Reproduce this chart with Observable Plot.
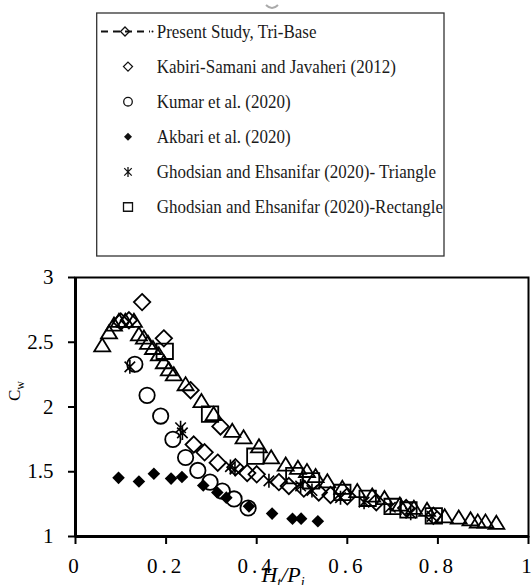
<!DOCTYPE html>
<html><head><meta charset="utf-8">
<script src="https://cdn.jsdelivr.net/npm/d3@7"></script>
<script src="https://cdn.jsdelivr.net/npm/@observablehq/plot@0.6"></script>
<style>
body{margin:0;background:#fff;}
#wrap{position:relative;width:531px;height:585px;overflow:hidden;font-family:"Liberation Serif","Times New Roman",serif;}
#chart{position:absolute;left:0;top:0;}
#legend{position:absolute;left:0;top:0;}
#chart [aria-label^="x-axis"] text{letter-spacing:4px;}
#chart [aria-label^="x-axis"] path,#chart [aria-label^="x-axis"] line,
#chart [aria-label^="y-axis"] path,#chart [aria-label^="y-axis"] line{stroke-width:2px;stroke:#000;}
</style></head>
<body><div id="wrap"><div id="chart"></div><svg id="legend" width="531" height="262"></svg></div>
<script>
// ---- data ----
const seriesNames = [
  "Present Study, Tri-Base",
  "Kabiri-Samani and Javaheri (2012)",
  "Kumar et al. (2020)",
  "Akbari et al. (2020)",
  "Ghodsian and Ehsanifar (2020)- Triangle",
  "Ghodsian and Ehsanifar (2020)-Rectangle"
];
const presentX = [0.059,0.074,0.085,0.096,0.110,0.129,0.140,0.151,0.160,0.171,0.184,0.195,0.206,0.217,0.243,0.278,0.305,0.346,0.371,0.405,0.432,0.464,0.491,0.511,0.530,0.556,0.589,0.622,0.655,0.682,0.716,0.747,0.776,0.815,0.846,0.872,0.888,0.905,0.929];
const presentY = [2.48,2.58,2.64,2.67,2.67,2.67,2.565,2.54,2.50,2.46,2.41,2.35,2.295,2.256,2.18,2.05,1.95,1.82,1.77,1.70,1.615,1.56,1.535,1.51,1.47,1.43,1.38,1.355,1.32,1.30,1.25,1.226,1.21,1.16,1.15,1.137,1.12,1.12,1.11];
const kabiriX = [0.100,0.118,0.147,0.195,0.254,0.261,0.285,0.314,0.320,0.353,0.379,0.400,0.449,0.471,0.504,0.537,0.563,0.600,0.664,0.730,0.790];
const kabiriY = [2.66,2.67,2.81,2.53,2.13,1.71,1.65,1.57,1.85,1.535,1.49,1.48,1.42,1.39,1.37,1.34,1.32,1.31,1.265,1.22,1.16];
const kumarX = [0.131,0.158,0.188,0.215,0.243,0.270,0.297,0.324,0.350,0.381];
const kumarY = [2.33,2.09,1.93,1.75,1.61,1.51,1.42,1.35,1.29,1.22];
const akbariX = [0.095,0.140,0.173,0.211,0.235,0.282,0.313,0.333,0.383,0.434,0.479,0.498,0.535];
const akbariY = [1.453,1.425,1.485,1.447,1.46,1.394,1.34,1.30,1.233,1.177,1.137,1.138,1.118];
const ghodTriX = [0.120,0.232,0.236,0.342,0.352,0.427,0.497,0.522,0.585,0.637,0.695,0.740,0.787];
const ghodTriY = [2.31,1.84,1.80,1.54,1.52,1.43,1.39,1.355,1.30,1.265,1.226,1.18,1.155];
const ghodRectX = [0.197,0.297,0.397,0.483,0.520,0.589,0.645,0.700,0.735,0.791];
const ghodRectY = [2.43,1.945,1.62,1.47,1.43,1.34,1.295,1.232,1.205,1.16];
const xTicks = [0,0.2,0.4,0.6,0.8,1];
const xTickLabels = ["0","0.2","0.4","0.6","0.8","1"];
const yTicks = [1,1.5,2,2.5,3];
const yTickLabels = ["1","1.5","2","2.5","3"];

const toRows = (xs, ys) => xs.map((x, i) => ({x, y: ys[i]}));

// ---- custom symbols ----
const R = s => Math.sqrt(s / Math.PI);
const symTriangle = {draw(c, s){const r=R(s), h=r*0.82; c.moveTo(0,-h); c.lineTo(r,h); c.lineTo(-r,h); c.closePath();}};
const symDiamond = {draw(c, s){const r=R(s); c.moveTo(0,-r); c.lineTo(r,0); c.lineTo(0,r); c.lineTo(-r,0); c.closePath();}};
const symSquare = {draw(c, s){const r=R(s), h=r*0.94; c.moveTo(-r,-h); c.lineTo(r,-h); c.lineTo(r,h); c.lineTo(-r,h); c.closePath();}};
const symCircle = {draw(c, s){const r=R(s); c.moveTo(r,0); c.arc(0,0,r,0,2*Math.PI); c.closePath();}};
const symStar = {draw(c, s){const r=R(s), d=r*0.75; c.moveTo(-d,-d); c.lineTo(d,d); c.moveTo(d,-d); c.lineTo(-d,d); c.moveTo(0,-r); c.lineTo(0,r);}};

const xLab = new Map(xTicks.map((t,i)=>[t,xTickLabels[i]]));
const yLab = new Map(yTicks.map((t,i)=>[t,yTickLabels[i]]));

const chart = Plot.plot({
  width: 531, height: 585,
  marginTop: 277, marginBottom: 49, marginLeft: 75, marginRight: 3,
  style: {fontFamily: '"Liberation Serif", "Times New Roman", serif', fontSize: "21px", color: "#000", background: "transparent"},
  x: {domain: [0,1], ticks: xTicks, tickFormat: d => xLab.get(d), tickSize: 8, tickPadding: 14, label: null},
  y: {domain: [1,3], ticks: yTicks, tickFormat: d => yLab.get(d), tickSize: 7, tickPadding: 15, label: null},
  marks: [
    Plot.frame({stroke: "#000", strokeWidth: 2}),
    Plot.ruleX([0], {stroke: "#000", strokeWidth: 3}),
    Plot.ruleY([1], {stroke: "#000", strokeWidth: 3}),
    Plot.dot(toRows(akbariX, akbariY), {x:"x", y:"y", symbol: symDiamond, r: 6.3, fill: "#000", stroke: "none"}),
    Plot.dot(toRows(kumarX, kumarY), {x:"x", y:"y", symbol: symCircle, r: 7.7, fill: "none", stroke: "#000", strokeWidth: 1.8}),
    Plot.dot(toRows(kabiriX, kabiriY), {x:"x", y:"y", symbol: symDiamond, r: 8.2, fill: "none", stroke: "#000", strokeWidth: 1.8}),
    Plot.dot(toRows(ghodTriX, ghodTriY), {x:"x", y:"y", symbol: symStar, r: 7, fill: "none", stroke: "#000", strokeWidth: 1.6}),
    Plot.dot(toRows(ghodRectX, ghodRectY), {x:"x", y:"y", symbol: symSquare, r: 8.2, fill: "none", stroke: "#000", strokeWidth: 1.8}),
    Plot.dot(toRows(presentX, presentY), {x:"x", y:"y", symbol: symTriangle, r: 8, fill: "none", stroke: "#000", strokeWidth: 1.8})
  ]
});
document.getElementById("chart").appendChild(chart);

// axis titles
const svg = d3.select(chart);
const yl = svg.append("text").attr("transform","translate(20,391) rotate(-90)").attr("text-anchor","middle")
  .attr("font-family",'"Liberation Serif", serif').attr("font-size",17).attr("fill","#000");
yl.append("tspan").text("C");
yl.append("tspan").attr("font-size",12).attr("dy",4).text("w");
const xl = svg.append("text").attr("x",283).attr("y",582).attr("text-anchor","middle")
  .attr("font-family",'"Liberation Serif", serif').attr("font-style","italic").attr("font-size",22).attr("fill","#000");
xl.append("tspan").text("H");
xl.append("tspan").attr("font-size",14).attr("dy",5).text("t");
xl.append("tspan").attr("dy",-5).text("/P");
xl.append("tspan").attr("font-size",14).attr("dy",5).text("i");

// ---- legend ----
const lg = d3.select("#legend");
lg.append("path").attr("d","M266,5 Q272,11 278,5").attr("fill","none").attr("stroke","#aaa").attr("stroke-width",2);
lg.append("defs").append("clipPath").attr("id","lclip").append("rect").attr("x",97).attr("y",13).attr("width",347).attr("height",243);
lg.append("rect").attr("x",96.7).attr("y",13).attr("width",347.3).attr("height",243)
  .attr("fill","#fff").attr("stroke","#333").attr("stroke-width",1.3);
const g = lg.append("g").attr("clip-path","url(#lclip)");
const baselines = seriesNames.map((_, i) => 37.5 + i * 35.1);
seriesNames.forEach((name, i) => {
  g.append("text").attr("transform",`translate(156.7,${baselines[i]}) scale(1,1.12)`)
    .attr("font-family",'"Liberation Serif", serif').attr("font-size",17).attr("fill","#1a1a1a").text(name);
});
const cy = i => baselines[i] - 6;
const sx = 128;
// present study: dashed line with diamond
g.append("line").attr("x1",101).attr("x2",150).attr("y1",cy(0)).attr("y2",cy(0))
  .attr("stroke","#111").attr("stroke-width",2).attr("stroke-dasharray","7,5");
g.append("circle").attr("cx",152.5).attr("cy",cy(0)).attr("r",1).attr("fill","#111");
const sym = (type, size) => d3.symbol(type, size)();
g.append("path").attr("d",sym(symDiamond, Math.PI*4.5*4.5)).attr("transform",`translate(125,${cy(0)})`).attr("fill","none").attr("stroke","#111").attr("stroke-width",1.3);
g.append("path").attr("d",sym(symDiamond, Math.PI*4.5*4.5)).attr("transform",`translate(${sx},${cy(1)})`).attr("fill","none").attr("stroke","#111").attr("stroke-width",1.3);
g.append("path").attr("d",sym(symCircle, Math.PI*4.3*4.3)).attr("transform",`translate(${sx},${cy(2)})`).attr("fill","none").attr("stroke","#111").attr("stroke-width",1.3);
g.append("path").attr("d",sym(symDiamond, Math.PI*4*4)).attr("transform",`translate(${sx},${cy(3)})`).attr("fill","#111");
g.append("path").attr("d",sym(symStar, Math.PI*5*5)).attr("transform",`translate(${sx},${cy(4)})`).attr("fill","none").attr("stroke","#111").attr("stroke-width",1.3);
g.append("path").attr("d",sym(symSquare, Math.PI*4.5*4.5)).attr("transform",`translate(${sx},${cy(5)})`).attr("fill","none").attr("stroke","#111").attr("stroke-width",1.3);
</script></body></html>
